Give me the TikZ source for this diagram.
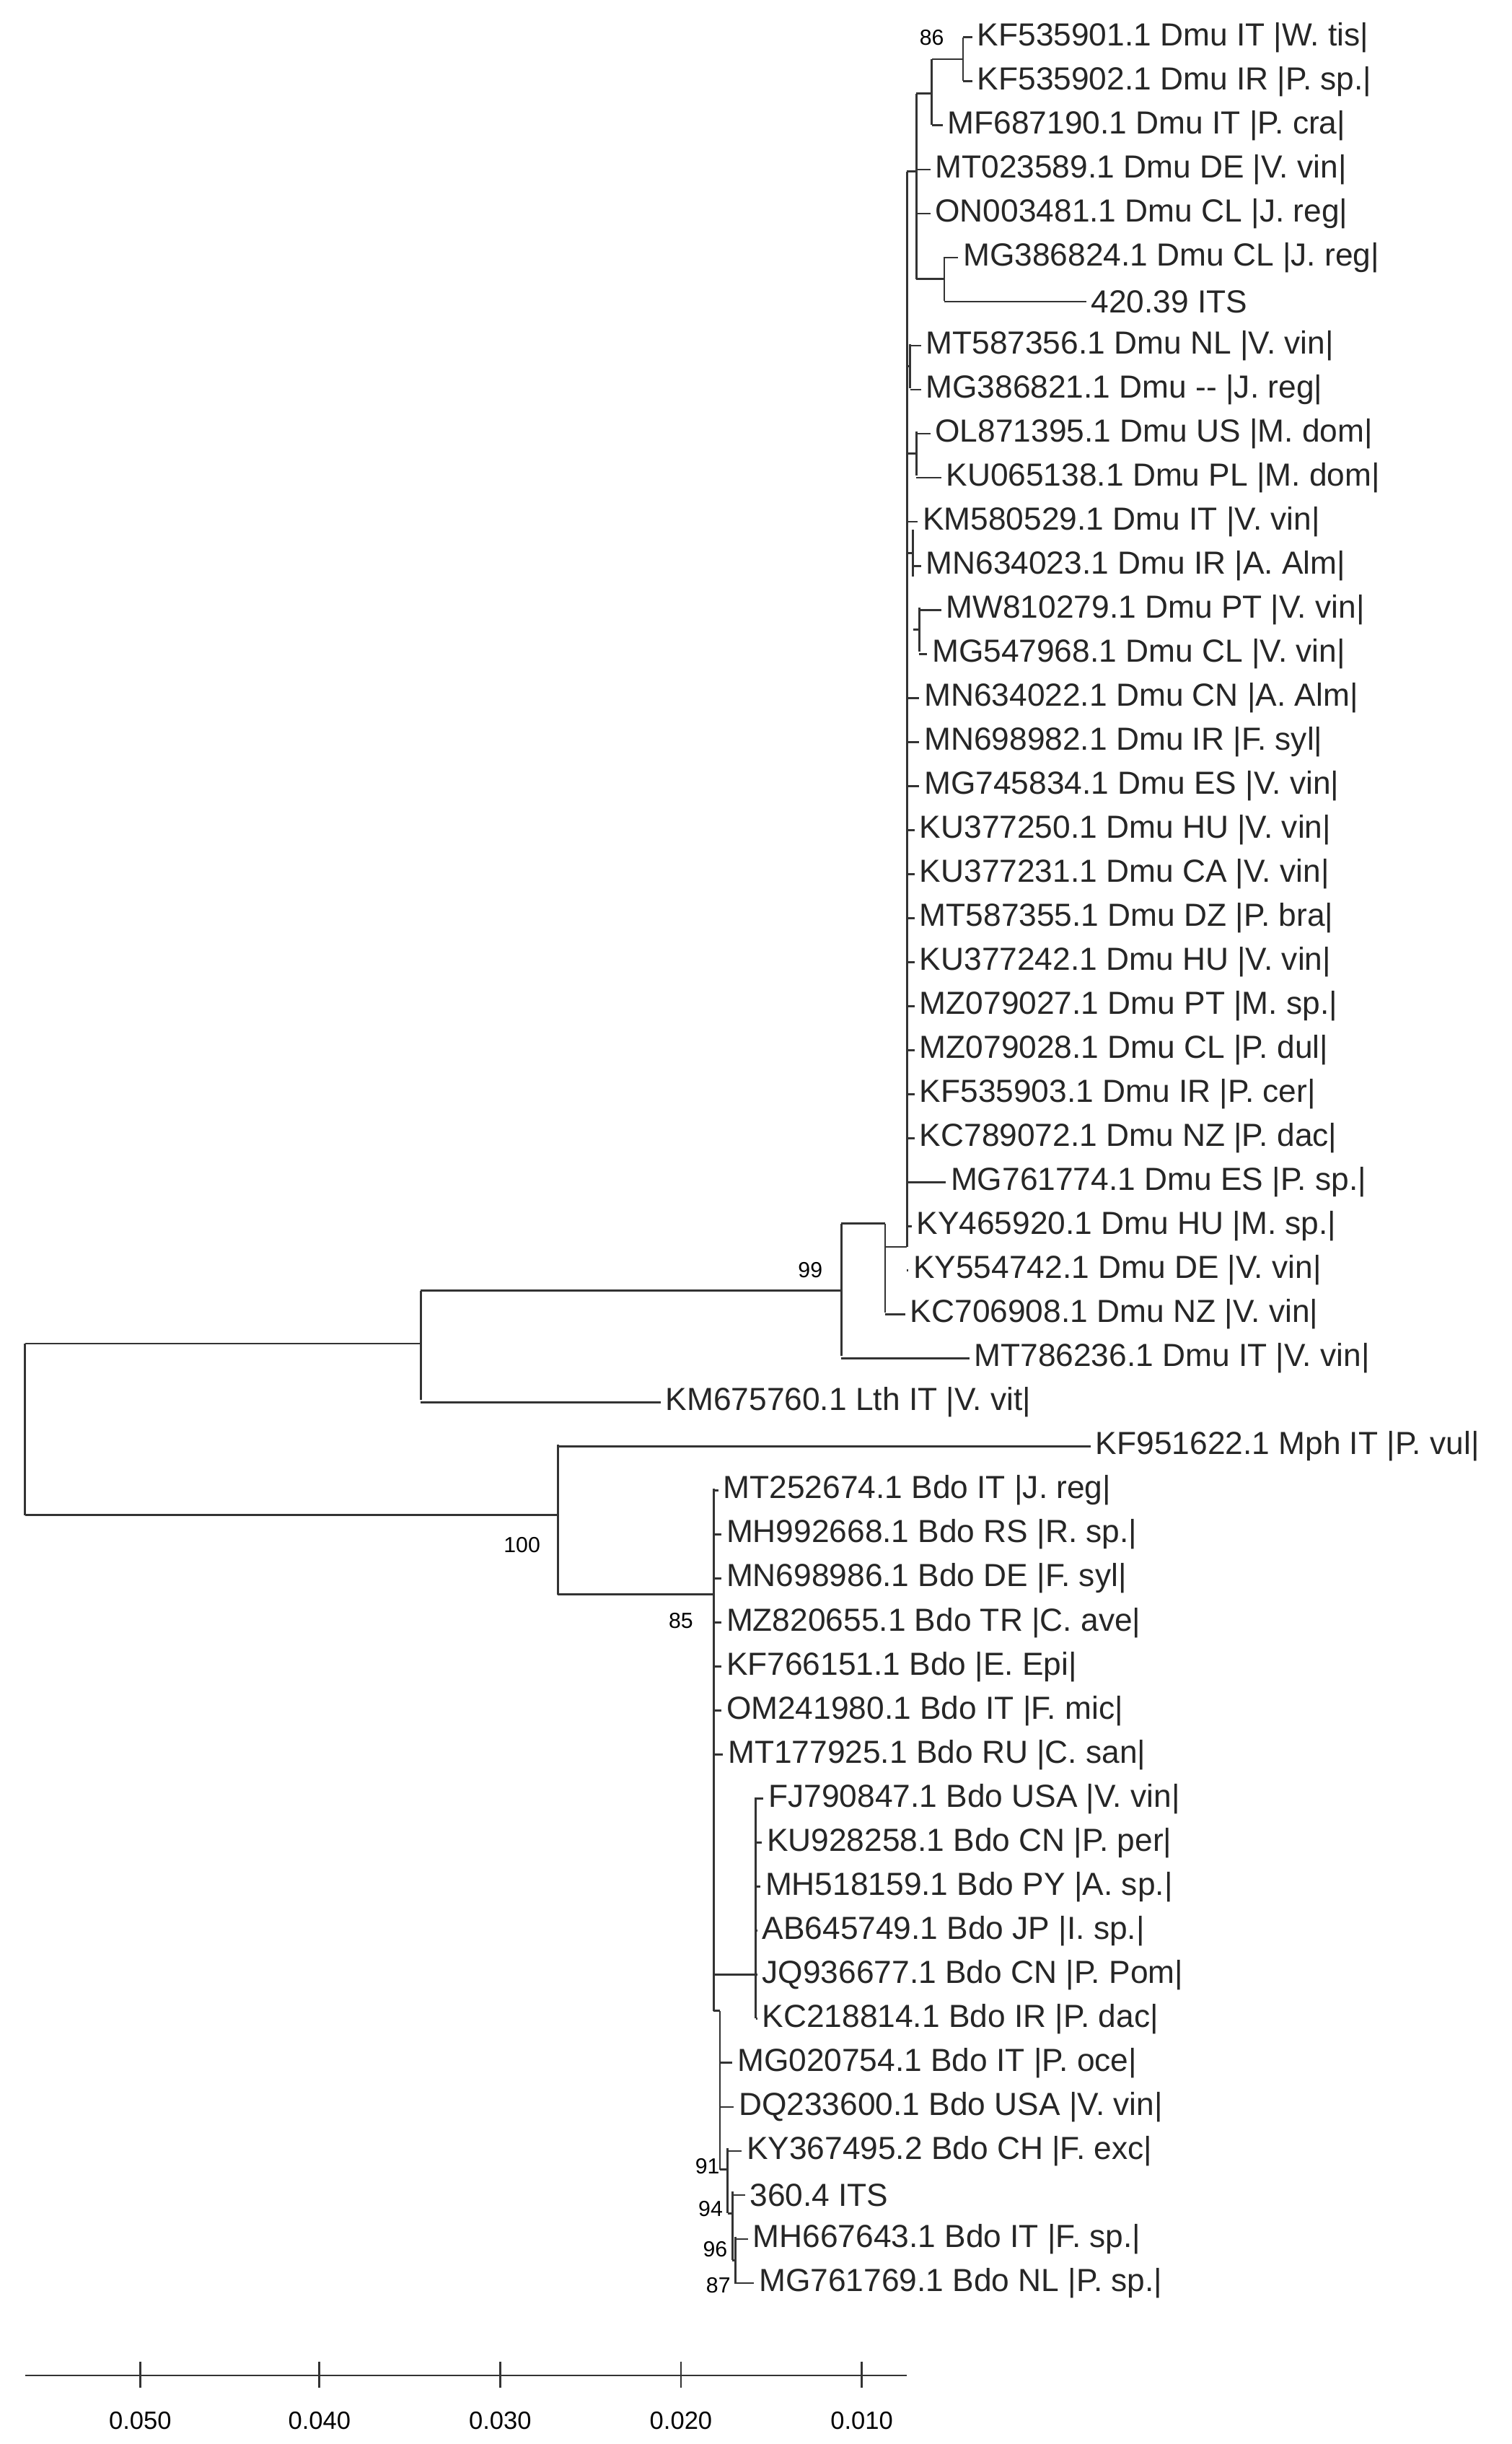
\documentclass[tikz,border=0pt]{standalone}
\usepackage{fontspec}
\setmainfont{Liberation Sans}
\begin{document}
\begin{tikzpicture}[x=1pt,y=-1pt,
  leaf/.style={anchor=west,inner sep=0pt,font=\fontsize{20.5}{20.5}\selectfont,text=black!85},
  boot/.style={inner sep=0pt,font=\fontsize{14}{14}\selectfont},
  br/.style={line width=1.3pt,black!80},
  tick/.style={inner sep=0pt,font=\fontsize{16}{16}\selectfont}]
\useasboundingbox[fill=white] (0,0) rectangle (970,1568);
\foreach \i/\px/\tx/\t in {
0/618/627/{KF535901.1 Dmu IT |W. tis|},
1/618/627/{KF535902.1 Dmu IR |P. sp.|},
2/598/608/{MF687190.1 Dmu IT |P. cra|},
3/588/600/{MT023589.1 Dmu DE |V. vin|},
4/588/600/{ON003481.1 Dmu CL |J. reg|},
5/606/618/{MG386824.1 Dmu CL |J. reg|},
6/606/700/{420.39 ITS},
7/584/594/{MT587356.1 Dmu NL |V. vin|},
8/584/594/{MG386821.1 Dmu {-}{-} |J. reg|},
9/588/600/{OL871395.1 Dmu US |M. dom|},
10/588/607/{KU065138.1 Dmu PL |M. dom|},
11/582/592/{KM580529.1 Dmu IT |V. vin|},
12/586/594/{MN634023.1 Dmu IR |A. Alm|},
13/590/607/{MW810279.1 Dmu PT |V. vin|},
14/590/598/{MG547968.1 Dmu CL |V. vin|},
15/582/593/{MN634022.1 Dmu CN |A. Alm|},
16/582/593/{MN698982.1 Dmu IR |F. syl|},
17/582/593/{MG745834.1 Dmu ES |V. vin|},
18/582/590/{KU377250.1 Dmu HU |V. vin|},
19/582/590/{KU377231.1 Dmu CA |V. vin|},
20/582/590/{MT587355.1 Dmu DZ |P. bra|},
21/582/590/{KU377242.1 Dmu HU |V. vin|},
22/582/590/{MZ079027.1 Dmu PT |M. sp.|},
23/582/590/{MZ079028.1 Dmu CL |P. dul|},
24/582/590/{KF535903.1 Dmu IR |P. cer|},
25/582/590/{KC789072.1 Dmu NZ |P. dac|},
26/582/610/{MG761774.1 Dmu ES |P. sp.|},
27/582/588/{KY465920.1 Dmu HU |M. sp.|},
28/582/586/{KY554742.1 Dmu DE |V. vin|},
29/568/584/{KC706908.1 Dmu NZ |V. vin|},
30/540/625/{MT786236.1 Dmu IT |V. vin|},
31/270/427/{KM675760.1 Lth IT |V. vit|},
32/358/703/{KF951622.1 Mph IT |P. vul|},
33/458/464/{MT252674.1 Bdo IT |J. reg|},
34/458/466/{MH992668.1 Bdo RS |R. sp.|},
35/458/466/{MN698986.1 Bdo DE |F. syl|},
36/458/466/{MZ820655.1 Bdo TR |C. ave|},
37/458/466/{KF766151.1 Bdo |E. Epi|},
38/458/466/{OM241980.1 Bdo IT |F. mic|},
39/458/467/{MT177925.1 Bdo RU |C. san|},
40/485/493/{FJ790847.1 Bdo USA |V. vin|},
41/485/492/{KU928258.1 Bdo CN |P. per|},
42/485/491/{MH518159.1 Bdo PY |A. sp.|},
43/485/489/{AB645749.1 Bdo JP |I. sp.|},
44/485/489/{JQ936677.1 Bdo CN |P. Pom|},
45/485/489/{KC218814.1 Bdo IR |P. dac|},
46/462/473/{MG020754.1 Bdo IT |P. oce|},
47/462/474/{DQ233600.1 Bdo USA |V. vin|},
48/467/479/{KY367495.2 Bdo CH |F. exc|},
49/470/481/{360.4 ITS},
50/472/483/{MH667643.1 Bdo IT |F. sp.|},
51/472/487/{MG761769.1 Bdo NL |P. sp.|}}{
  \pgfmathsetmacro\yy{24+28.25*\i}
  \node[leaf] (l\i) at (\tx,\yy) {\t};
  \draw[br] (\px,\yy) -- ([xshift=-3pt]l\i.west);
}
% internal nodes
\draw[br] (618,24)--(618,52) (598,38)--(618,38) (598,38)--(598,80)
 (588,60)--(598,60) (588,60)--(588,179) (588,179)--(606,179) (606,165)--(606,193)
 (582,110)--(588,110) (582,110)--(582,800)
 (582,235)--(584,235) (584,221)--(584,249)
 (582,291)--(588,291) (588,277)--(588,305)
 (582,355)--(586,355) (586,340)--(586,370)
 (586,404)--(590,404) (590,390)--(590,418)
 (568,800)--(582,800) (568,785)--(568,842)
 (540,785)--(568,785) (540,785)--(540,870)
 (270,828)--(540,828) (270,828)--(270,898)
 (16,862)--(270,862) (16,862)--(16,972) (16,972)--(358,972)
 (358,927)--(358,1023) (358,1023)--(458,1023)
 (458,955)--(458,1290) (458,1267)--(485,1267) (485,1153)--(485,1295)
 (458,1290)--(462,1290) (462,1290)--(462,1392) (462,1392)--(467,1392)
 (467,1378)--(467,1420) (467,1420)--(470,1420) (470,1406)--(470,1450)
 (470,1450)--(472,1450) (472,1435)--(472,1465);
% bootstrap
\node[boot] (b86) at (598,24) {86};
\node[boot] (b99) at (520,815) {99};
\node[boot] (b100) at (335,991) {100};
\node[boot] (b85) at (437,1040) {85};
\node[boot] (b91) at (454,1390) {91};
\node[boot] (b94) at (456,1417) {94};
\node[boot] (b96) at (459,1443) {96};
\node[boot] (b87) at (461,1466) {87};
% scale bar
\coordinate (s0) at (16,1524);
\coordinate (s1) at (582,1524);
\draw[br] (s0) -- (s1);
\foreach \x/\l in {90/0.050,205/0.040,321/0.030,437/0.020,553/0.010}{
  \draw[br] (\x,1515) -- (\x,1532);
  \node[tick] (t\x) at (\x,1553) {\l};
}
\end{tikzpicture}
\end{document}
